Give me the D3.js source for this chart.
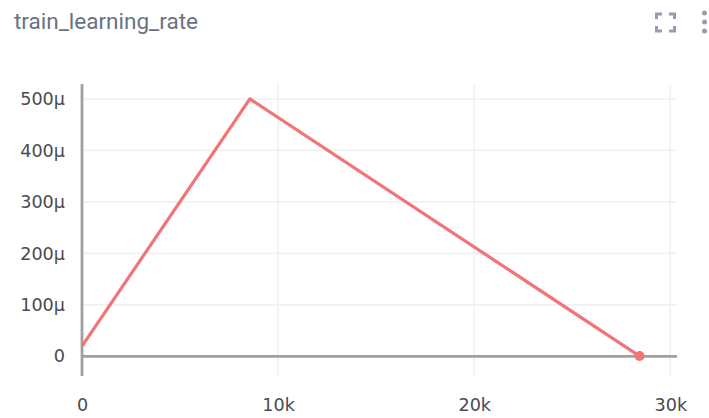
<!DOCTYPE html>
<html>
<head>
<meta charset="utf-8">
<script src="https://cdn.jsdelivr.net/npm/d3@7"></script>
<style>
    html, body { margin: 0; padding: 0; background: #fff; }
    svg { display: block; }
    .title { font-family: Roboto, sans-serif; font-size: 22.5px; fill: #6a7185; }
    .tick text { font-family: "DejaVu Sans", sans-serif; font-size: 17.6px; fill: #4a4a52; }
</style>
</head>
<body>
<div id="chart"></div>
<script>
const chartTitle = 'train_learning_rate';

// Values
const steps = [0, 8560, 28430];
const rates = [20e-6, 500e-6, 0.5e-6];

const xTicks = [0, 10000, 20000, 30000];
const xTickLabels = ['0', '10k', '20k', '30k'];
const yTicks = [0, 100e-6, 200e-6, 300e-6, 400e-6, 500e-6];
const yTickLabels = ['0', '100µ', '200µ', '300µ', '400µ', '500µ'];

const width = 709;
const height = 418;
const plot = { left: 82, right: 677, top: 84, bottom: 376 };

const x = d3.scaleLinear().domain([0, 30340]).range([plot.left, plot.right]);
const y = d3.scaleLinear().domain([-38.2e-6, 529e-6]).range([plot.bottom, plot.top]);

const svg = d3.select('#chart').append('svg')
    .attr('width', width)
    .attr('height', height);

svg.append('text')
    .attr('class', 'title')
    .attr('x', 14)
    .attr('y', 29)
    .text(chartTitle);

// Grid lines
svg.append('g').selectAll('line').data(xTicks.slice(1)).join('line')
    .attr('x1', d => x(d)).attr('x2', d => x(d))
    .attr('y1', plot.top).attr('y2', plot.bottom)
    .attr('stroke', '#f1f1f1').attr('stroke-width', 1.6);
svg.append('g').selectAll('line').data(yTicks.slice(1)).join('line')
    .attr('x1', plot.left).attr('x2', plot.right)
    .attr('y1', d => y(d)).attr('y2', d => y(d))
    .attr('stroke', '#f1f1f1').attr('stroke-width', 1.6);

// Tick labels
const xAxis = d3.axisBottom(x)
    .tickValues(xTicks)
    .tickFormat((d, i) => xTickLabels[i])
    .tickSize(0)
    .tickPadding(0);
const xGroup = svg.append('g')
    .attr('transform', `translate(0, 398)`)
    .call(xAxis);
xGroup.select('.domain').remove();
xGroup.selectAll('text').attr('dy', '.71em').attr('y', 0);

const yAxis = d3.axisLeft(y)
    .tickValues(yTicks)
    .tickFormat((d, i) => yTickLabels[i])
    .tickSize(0)
    .tickPadding(0);
const yGroup = svg.append('g')
    .attr('transform', `translate(65, 0)`)
    .call(yAxis);
yGroup.select('.domain').remove();

// Zero lines
svg.append('line')
    .attr('x1', x(0)).attr('x2', x(0))
    .attr('y1', plot.top).attr('y2', plot.bottom)
    .attr('stroke', '#a0a0a0').attr('stroke-width', 2.8);
svg.append('line')
    .attr('x1', plot.left).attr('x2', plot.right)
    .attr('y1', y(0)).attr('y2', y(0))
    .attr('stroke', '#a0a0a0').attr('stroke-width', 2.8);

// Series
const line = d3.line().x((d, i) => x(steps[i])).y(d => y(d));
svg.append('path')
    .attr('d', line(rates))
    .attr('fill', 'none')
    .attr('stroke', '#f27474')
    .attr('stroke-width', 3.2)
    .attr('stroke-linejoin', 'round');
svg.append('circle')
    .attr('cx', x(steps[steps.length - 1]))
    .attr('cy', y(rates[rates.length - 1]))
    .attr('r', 5)
    .attr('fill', '#f27474');

// Fullscreen icon
const icon = svg.append('g').attr('fill', 'none').attr('stroke', '#959db2').attr('stroke-width', 3);
icon.append('path').attr('d', 'M656.5 19V14H662 M669 14H674.5V19 M656.5 26V31H662 M669 31H674.5V26');

// Menu dots
svg.append('g').attr('fill', '#959db2').selectAll('circle').data([13, 22, 31]).join('circle')
    .attr('cx', 704.5).attr('cy', d => d).attr('r', 2.5);
</script>
</body>
</html>
